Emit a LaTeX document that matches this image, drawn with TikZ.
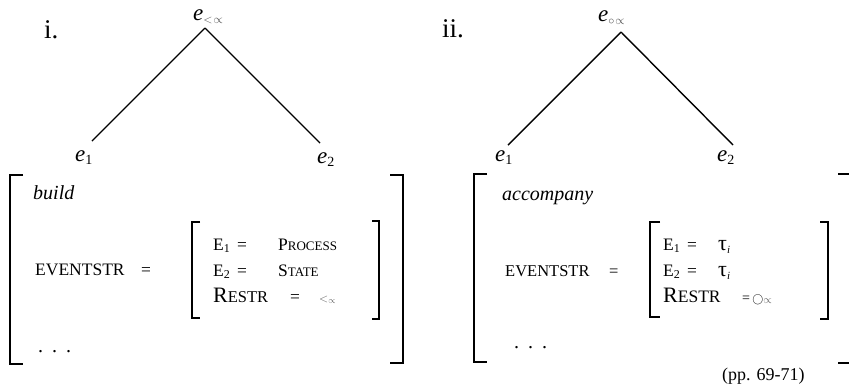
\documentclass[tikz,border=0pt]{standalone}
\usepackage{fontspec}
\setmainfont{Liberation Serif}
\newcommand\fs[1]{\fontsize{#1}{#1}\selectfont}
\newcommand\lowsub[2]{\raisebox{-0.35ex}{\fs{#1}#2}}
\begin{document}
\begin{tikzpicture}[x=1pt,y=-1pt,
  txt/.style={inner sep=0pt, anchor=base west},
  edge/.style={line width=1.4pt, black},
  brk/.style={line width=1.7pt, black},
  big/.style={font=\fs{27}},
  elab/.style={font=\fs{23}\itshape},
  med/.style={font=\fs{17.5}},
  inner/.style={font=\fs{17.5}}]
\useasboundingbox (0,0) rectangle (849,384);

% ---------- panel i ----------
\node[txt,big] (ni) at (44,38) {i.};
\node[txt,elab] (tl) at (193,20) {e\lowsub{13}{\color{black!70}$<$\hspace{1pt}$\propto$}};
\coordinate (apL) at (205,28);
\coordinate (lL) at (92,141);
\coordinate (rL) at (320,143);
\node[txt,elab] (e1L) at (75,161) {e\lowsub{14}{\upshape 1}};
\node[txt,elab] (e2L) at (317,163) {e\lowsub{14}{\upshape 2}};
\draw[edge] (apL) -- (lL);
\draw[edge] (apL) -- (rL);

\draw[brk] (23,175) -- (10,175) -- (10,364) -- (23,364);
\draw[brk] (390,175) -- (403,175) -- (403,363) -- (390,363);
\draw[brk] (200,222) -- (192,222) -- (192,318) -- (200,318);
\draw[brk] (372,221) -- (379,221) -- (379,319) -- (372,319);

\node[txt,font=\fs{20}\itshape] (build) at (33,199) {build};
\node[txt,med] (evL) at (35,275) {EVENTSTR};
\node[txt,med] (eqL) at (141,275) {=};
\node[txt,inner] (a1) at (213,250) {E\lowsub{12}{1}};
\node[txt,inner] (a1q) at (237,250) {=};
\node[txt,inner] (a1v) at (278,250) {P{\fs{13}ROCESS}};
\node[txt,inner] (a2) at (213,276) {E\lowsub{12}{2}};
\node[txt,inner] (a2q) at (237,276) {=};
\node[txt,inner] (a2v) at (278,276) {S{\fs{13}TATE}};
\node[txt,inner] (a3) at (213,302) {{\fs{22}R}{\fs{16.5}ESTR}};
\node[txt,inner] (a3q) at (290,302) {=};
\node[txt,inner] (a3v) at (319,302) {\fs{13}\color{black!65}$<_{\propto}$};
\node[txt,font=\fs{20}] (dotsL) at (38,352) {.\hspace{9pt}.\hspace{9pt}.};

% ---------- panel ii ----------
\node[txt,big] (nii) at (442,37) {ii.};
\node[txt,elab] (tr) at (598,21) {e\lowsub{13}{\color{black!70}$\circ$\hspace{1pt}$\propto$}};
\coordinate (apR) at (621,32);
\coordinate (lR) at (508,145);
\coordinate (rR) at (733,145);
\node[txt,elab] (e1R) at (495,161) {e\lowsub{14}{\upshape 1}};
\node[txt,elab] (e2R) at (717,161) {e\lowsub{14}{\upshape 2}};
\draw[edge] (apR) -- (lR);
\draw[edge] (apR) -- (rR);

\draw[brk] (487,174) -- (474,174) -- (474,362) -- (487,362);
\draw[brk] (838,174) -- (849,174);
\draw[brk] (838,363) -- (849,363);
\draw[brk] (660,222) -- (650,222) -- (650,317) -- (660,317);
\draw[brk] (820,222) -- (828,222) -- (828,319) -- (820,319);

\node[txt,font=\fs{20}\itshape] (acc) at (502,200) {accompany};
\node[txt,font=\fs{16.5}] (evR) at (505,276) {EVENTSTR};
\node[txt,font=\fs{16.5}] (eqR) at (609,276) {=};
\node[txt,inner] (b1) at (663,250) {E\lowsub{12}{1}};
\node[txt,inner] (b1q) at (687,250) {=};
\node[txt,font=\fs{22}] (b1v) at (718,250) {τ\lowsub{11}{\itshape i}};
\node[txt,inner] (b2) at (663,276) {E\lowsub{12}{2}};
\node[txt,inner] (b2q) at (687,276) {=};
\node[txt,font=\fs{22}] (b2v) at (718,276) {τ\lowsub{11}{\itshape i}};
\node[txt,inner] (b3) at (663,302) {{\fs{22}R}{\fs{17.5}ESTR}};
\node[txt,font=\fs{14}] (b3q) at (742,302) {=\,\fs{11}$\bigcirc$\lowsub{11}{\color{black!65}$\propto$}};
\node[txt,font=\fs{20}] (dotsR) at (514,348) {.\hspace{9pt}.\hspace{9pt}.};
\node[txt,font=\fs{18}] (pp) at (722,380) {(pp. 69-71)};
\end{tikzpicture}
\end{document}
